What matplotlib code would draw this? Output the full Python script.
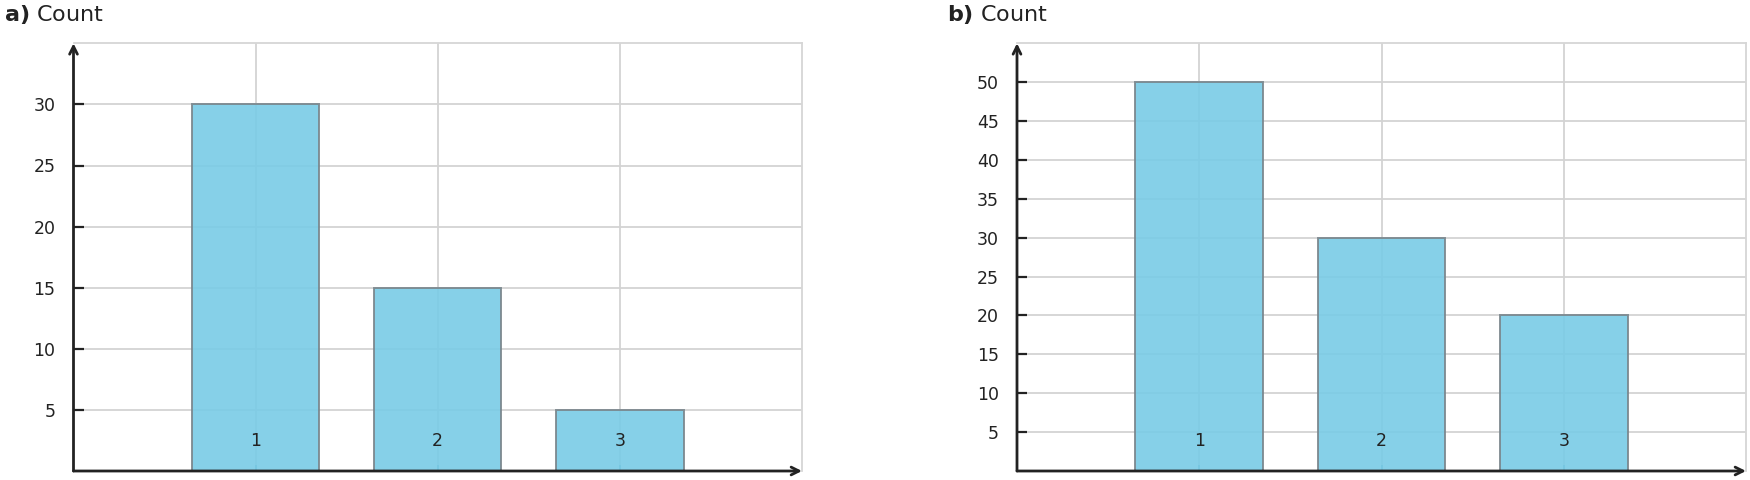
import matplotlib
matplotlib.use("Agg")
import matplotlib.pyplot as plt

categories = [1, 2, 3]
counts_a = [30, 15, 5]
counts_b = [50, 30, 20]
yticks_a = [5, 10, 15, 20, 25, 30]
yticks_b = [5, 10, 15, 20, 25, 30, 35, 40, 45, 50]
panel_labels = ["a)", "b)"]
title_text = "Count"

plt.rcParams['font.family'] = ['DejaVu Sans']

fig = plt.figure(figsize=(17.5, 4.8), dpi=100)

W, H = 1750.0, 480.0
panels = [
    (73.5, 802, counts_a, yticks_a, 35, panel_labels[0]),
    (1017, 1746, counts_b, yticks_b, 55, panel_labels[1]),
]
top_px, bot_px = 43.3, 471

for (lx, rx, vals, yt, ymax, lab) in panels:
    ax = fig.add_axes([lx / W, 1 - bot_px / H, (rx - lx) / W, (bot_px - top_px) / H])
    ax.set_xlim(0, 4)
    ax.set_ylim(0, ymax)
    ax.set_axisbelow(True)
    ax.grid(True, color='#d3d3d3', linewidth=1.3, zorder=0)
    ax.bar(categories, vals, width=0.7, color='#79cbe6', alpha=0.9,
           edgecolor='#7a868c', linewidth=1.4, zorder=2)
    ax.set_yticks(yt)
    ax.set_xticks(categories)
    ax.set_yticklabels([str(v) for v in yt])
    ax.set_xticklabels([])
    ax.tick_params(axis='y', direction='in', length=7, width=1.6, color='#222222',
                   labelsize=12.5, pad=13, labelcolor='#222222')
    ax.tick_params(axis='x', direction='in', length=4, width=1.2, color='#5a9ab5')
    for c in categories:
        ax.text(c, 0.07, str(c), transform=ax.get_xaxis_transform(),
                ha='center', va='center', fontsize=12.5, color='#222222', zorder=5)
    for s in ['top', 'right']:
        ax.spines[s].set_color('#d6d6d6')
        ax.spines[s].set_linewidth(1.3)
    for s in ['left', 'bottom']:
        ax.spines[s].set_visible(False)
    # axis lines with arrows
    ax.annotate('', xy=(0, 1.0), xytext=(0, 0), xycoords='axes fraction',
                arrowprops=dict(arrowstyle='->', color='#222222', lw=2,
                                shrinkA=0, shrinkB=0, mutation_scale=14),
                annotation_clip=False, zorder=6)
    ax.annotate('', xy=(1.0, 0), xytext=(0, 0), xycoords='axes fraction',
                arrowprops=dict(arrowstyle='->', color='#222222', lw=2,
                                shrinkA=0, shrinkB=0, mutation_scale=14),
                annotation_clip=False, zorder=6)
    tx = (lx - 70) / W
    fig.text(tx, 1 - 21 / H, r"$\mathbf{" + lab + r"}$ " + title_text,
             fontsize=16, color='#222222', va='baseline', ha='left')

fig.savefig("out.png", dpi=100)
